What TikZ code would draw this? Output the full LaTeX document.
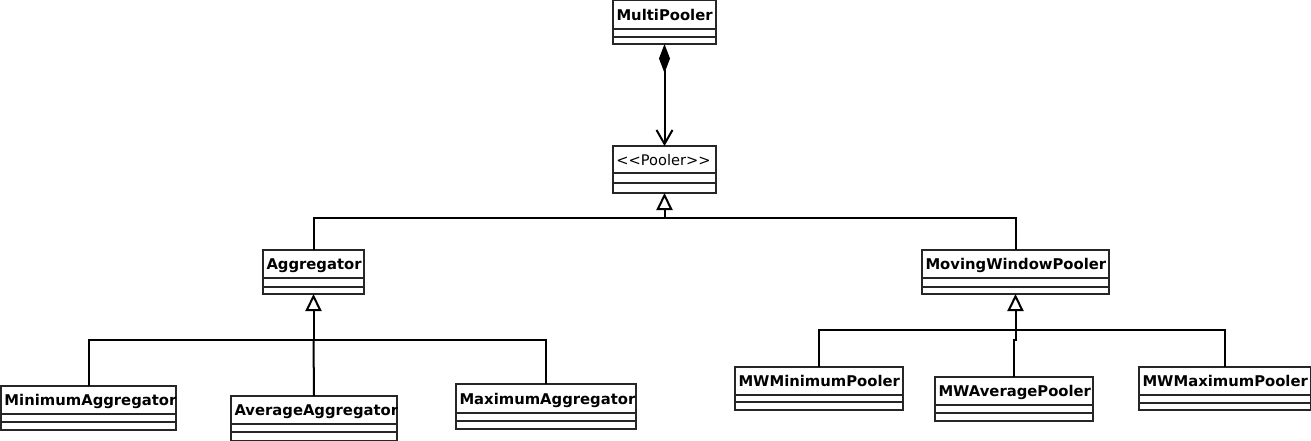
\documentclass[tikz,border=0pt]{standalone}
\usepackage{fontspec}
\setmainfont{DejaVu Sans}
\usetikzlibrary{arrows.meta,calc}
\tikzset{
  clsbox/.style={draw=black!85, line width=1.3pt, inner sep=0pt, outer sep=0pt, fill=white},
  clsline/.style={draw=black!85, line width=1.3pt},
  lbl/.style={inner sep=0pt, outer sep=0pt, font=\fontsize{14.8}{16}\selectfont\bfseries},
  stlbl/.style={inner sep=0pt, outer sep=0pt, font=\fontsize{14.6}{16}\selectfont},
  conn/.style={draw=black, line width=2pt},
  inherit/.style={-{Triangle[open, length=17pt, width=16pt, line width=2pt, fill=white]}},
}
% name, x1, y1, x2, y2, header bottom, divider, label
\newcommand\umlcls[8]{%
  \node[clsbox, anchor=north west, minimum width={#4-#2}, minimum height={#5-#3}] (#1) at (#2,#3) {};
  \draw[clsline] (#2,#6) -- (#4,#6);
  \draw[clsline] (#2,#7) -- (#4,#7);
  \begin{scope}
    \clip (#2,#3) rectangle (#4,#6);
    \node[lbl, anchor=base west] (#1-name) at ({#2+3.5},{(#3+#6)/2+5.5}) {#8};
  \end{scope}
}
\begin{document}
\begin{tikzpicture}[x=1pt,y=-1pt]
\useasboundingbox (0,0) rectangle (1311,440);
\clip (0,0) rectangle (1311,440);
% classes
\umlcls{multi}{613}{0.7}{716}{44}{29}{37}{MultiPooler}
\node[clsbox, anchor=north west, minimum width=103, minimum height=47] (pooler) at (613,146) {};
\draw[clsline] (613,173) -- (716,173);
\draw[clsline] (613,183) -- (716,183);
\node[stlbl, anchor=base] (pooler-name) at (663.5,165.5) {<{}<Pooler>{}>};
\umlcls{agg}{263}{250}{364}{294}{278}{287}{Aggregator}
\umlcls{mwp}{922}{250}{1109}{294}{278}{287}{MovingWindowPooler}
\umlcls{minagg}{1}{386}{176}{430}{414}{422}{MinimumAggregator}
\umlcls{avgagg}{231}{396}{397}{441}{424}{432}{AverageAggregator}
\umlcls{maxagg}{456}{384}{636}{429}{413}{421}{MaximumAggregator}
\umlcls{mwmin}{735}{367}{903}{410}{395}{402}{MWMinimumPooler}
\umlcls{mwavg}{935}{377}{1093}{421}{405}{413}{MWAveragePooler}
\umlcls{mwmax}{1139}{367}{1310.3}{410}{395}{403}{MWMaximumPooler}
% composition
\draw[conn, {Diamond[length=29pt, width=11pt, fill=black]}-{Straight Barb[length=14pt, width=16pt, line width=2pt]}] (multi.south) -- (pooler.north);
% first level inheritance
\coordinate (bus1) at (664.5,218);
\draw[conn] (agg.north) |- (bus1) -| (mwp.north);
\draw[conn, inherit] (bus1) -- (pooler.south);
% aggregator children
\coordinate (bus2) at (313.5,340);
\draw[conn] (minagg.north) |- (bus2) -| (maxagg.north);
\draw[conn] (avgagg.north) -- (bus2);
\draw[conn, inherit] (bus2) -- (agg.south);
% moving window children
\coordinate (bus3) at (1015.5,330);
\draw[conn] (mwmin.north) |- (bus3) -| (mwmax.north);
\draw[conn] (mwavg.north) |- ($(bus3)+(0,10)$) -- (bus3);
\draw[conn, inherit] (bus3) -- (mwp.south);
\end{tikzpicture}
\end{document}
